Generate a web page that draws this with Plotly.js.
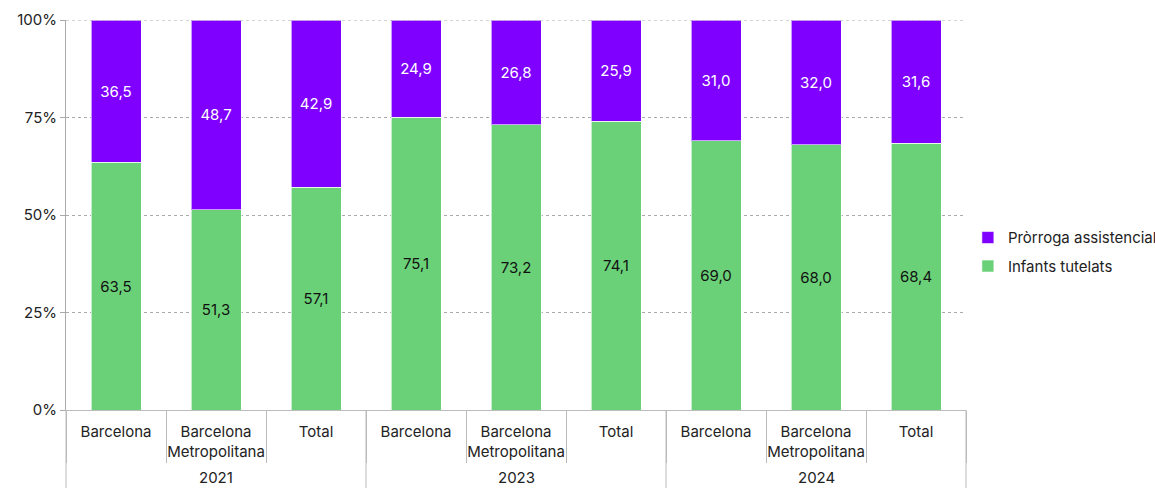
<!DOCTYPE html>
<html><head><meta charset="utf-8">
<script src="https://cdn.plot.ly/plotly-3.0.1.min.js"></script>
<style>html,body{margin:0;padding:0;background:#fff}#chart{width:1155px;height:488px}</style>
</head><body><div id="chart"></div>
<script>
const years = ["2021","2021","2021","2023","2023","2023","2024","2024","2024"];
const areas = ["Barcelona","Barcelona<br>Metropolitana","Total","Barcelona","Barcelona<br>Metropolitana","Total","Barcelona","Barcelona<br>Metropolitana","Total"];
const infantsTutelats = [63.5, 51.3, 57.1, 75.1, 73.2, 74.1, 69.0, 68.0, 68.4];
const prorrogaAssistencial = [36.5, 48.7, 42.9, 24.9, 26.8, 25.9, 31.0, 32.0, 31.6];
const yTicks = [0, 25, 50, 75, 100];
const yTickText = ["0%", "25%", "50%", "75%", "100%"];
const yearLabels = ["2021", "2023", "2024"];

// unique category ids (year + area) so repeated area names stay separate
const cats = years.map((y, i) => y + " · " + areas[i]);

const FONT = "Inter, 'Noto Sans', sans-serif";
const GRID = "#aaa";
const traces = [
  {type:"bar", name:"Infants tutelats", legendgroup:"a", legendrank:2, x:cats, y:infantsTutelats,
   marker:{color:"#6BD178", line:{color:"rgba(255,255,255,0.6)", width:1}},
   texttemplate:"%{y:.1f}", textposition:"inside", insidetextanchor:"middle",
   textfont:{color:"#111", size:15, family:FONT}, hoverinfo:"none"},
  {type:"bar", name:"Pròrroga assistencial", legendgroup:"b", legendrank:1, x:cats, y:prorrogaAssistencial,
   marker:{color:"#8000FF", line:{color:"rgba(255,255,255,0.6)", width:1}},
   texttemplate:"%{y:.1f}", textposition:"inside", insidetextanchor:"middle",
   textfont:{color:"#fff", size:15, family:FONT}, hoverinfo:"none"}
];

// year group labels, centred on the middle category of each group
const annotations = yearLabels.map(yr => {
  const idx = years.indexOf(yr) + 1;
  return {x:cats[idx], xref:"x", y:-0.172, yref:"paper", yanchor:"middle",
          text:yr, showarrow:false, font:{size:15, color:"#222"}};
});

// group dividers (layout lines at the group boundaries) + top gridline
const shapes = [0, 1/3, 2/3, 1].map(px => ({
  type:"line", xref:"paper", yref:"paper", x0:px, x1:px, y0:0, y1:-0.21,
  line:{color:"#bbb", width:1}
}));
shapes.push({type:"line", xref:"paper", yref:"y", x0:0, x1:1, y0:100, y1:100,
             line:{color:GRID, width:1, dash:"3px,3px"}});

const layout = {
  width:1155, height:488,
  margin:{l:66, r:189, t:20, b:78},
  barmode:"stack", bargap:0.5,
  separators:",.",
  font:{family:FONT, size:15, color:"#222"},
  paper_bgcolor:"#fff", plot_bgcolor:"#fff",
  showlegend:true,
  legend:{xref:"container", yref:"container", x:0.838, y:0.484, yanchor:"middle", xanchor:"left",
          traceorder:"grouped", tracegroupgap:6, font:{size:15, color:"#222"}, itemwidth:30},
  xaxis:{type:"category", tickmode:"array", tickvals:cats, ticktext:areas, tickangle:0,
         showline:true, linecolor:"#bbb", linewidth:1,
         ticks:"outside", tickson:"boundaries", ticklen:52, tickcolor:"#bbb",
         ticklabelstandoff:8, tickfont:{size:15, color:"#222"}, showgrid:false},
  yaxis:{range:[0,100], tickmode:"array", tickvals:yTicks, ticktext:yTickText, showgrid:true,
         gridcolor:GRID, griddash:"3px,3px", gridwidth:1, zeroline:false,
         showline:true, linecolor:"#aaa", ticks:"outside", ticklen:5, tickcolor:"#aaa",
         tickfont:{size:15, color:"#222"}},
  annotations, shapes
};
Plotly.newPlot("chart", traces, layout, {staticPlot:true, displayModeBar:false});
</script></body></html>
